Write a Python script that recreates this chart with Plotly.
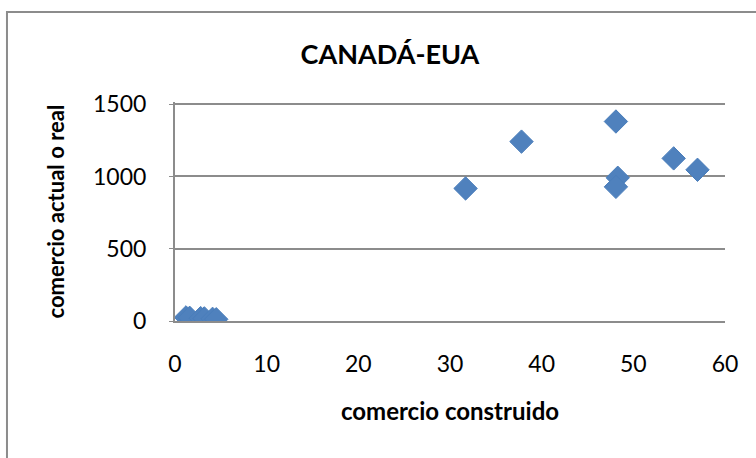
import plotly.graph_objects as go

# comercio construido (x) vs comercio actual o real (y)
comercio_construido = [1.2, 1.6, 2.8, 3.2, 4.1, 4.5,
                       31.7, 37.8, 48.1, 48.3, 48.1, 54.4, 57.0]
comercio_real = [25, 22, 20, 18, 15, 12,
                 917, 1241, 1380, 991, 928, 1125, 1046]

x_ticks = [0, 10, 20, 30, 40, 50, 60]
y_ticks = [0, 500, 1000, 1500]

FONT = "Lato"
GRAY = "#8c8c8c"

fig = go.Figure(go.Scatter(
    x=comercio_construido, y=comercio_real, mode="markers",
    marker=dict(symbol="diamond", size=18, color="#4F81BD",
                line=dict(color="#4A7EBB", width=1)),
    showlegend=False,
))

fig.update_xaxes(
    range=[0, 60], tickvals=x_ticks, showgrid=False, zeroline=False,
    showline=True, linecolor=GRAY, linewidth=2, ticks="",
    ticklabelstandoff=21,
    tickfont=dict(family=FONT, size=23, color="black"),
    title=dict(text="<b>comercio construido</b>", standoff=28,
               font=dict(family=FONT, size=24, color="black")),
)
# range a bit above 1500 so the top gridline is not dropped at the edge
fig.update_yaxes(
    range=[0, 1515], tickvals=y_ticks, showgrid=True, gridcolor=GRAY,
    gridwidth=2, zeroline=False, showline=True, linecolor=GRAY,
    linewidth=2, ticks="outside", ticklen=4, tickcolor=GRAY,
    ticklabelstandoff=18,
    tickfont=dict(family=FONT, size=23, color="black"),
    title=dict(text="<b>comercio actual o real</b>", standoff=22,
               font=dict(family=FONT, size=22, color="black")),
)

fig.update_layout(
    width=756, height=458,
    margin=dict(l=175, r=31, t=102, b=137),
    plot_bgcolor="white", paper_bgcolor="white",
    title=dict(text="<b>CANADÁ-EUA</b>", x=390 / 756, xanchor="center",
               y=1 - 55 / 458, yanchor="middle",
               font=dict(family=FONT, size=27, color="black")),
    shapes=[
        # chart frame (left and top edges visible, rest is cut off)
        dict(type="rect", xref="paper", yref="paper",
             x0=-0.3055, x1=1.3, y0=-1.0, y1=1.411,
             line=dict(color=GRAY, width=2)),
    ],
)

fig.write_html("out.html", config={"displayModeBar": False},
               post_script="document.body.style.margin='0';")
